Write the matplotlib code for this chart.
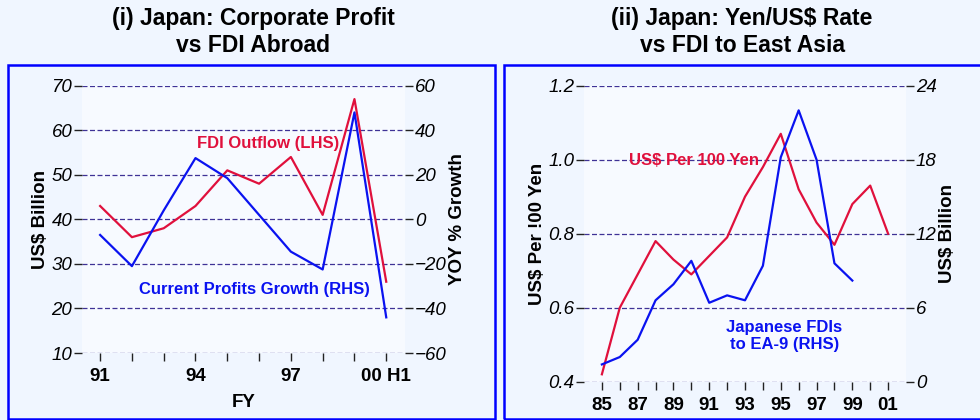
import matplotlib.pyplot as plt
from matplotlib.patches import Rectangle

plt.rcParams['font.family'] = ['Liberation Sans', 'DejaVu Sans']

# Panel (i): Japan corporate profit vs FDI abroad
FY_LABELS = ["91", "92", "93", "94", "95", "96", "97", "98", "99", "00 H1"]
FDI_OUTFLOW = [43, 36, 38, 43, 51, 48, 54, 41, 67, 26]
PROFIT_GROWTH = [-7, -21, 4, 27.5, 18.5, 2, -14.5, -22.5, 48, -44]

# Panel (ii): Yen/US$ rate vs FDI to East Asia
YEARS = ["85", "86", "87", "88", "89", "90", "91", "92", "93", "94",
         "95", "96", "97", "98", "99", "00", "01"]
USD_PER_100YEN = [0.42, 0.60, 0.69, 0.78, 0.73, 0.69, 0.74, 0.79, 0.90, 0.98,
                  1.07, 0.92, 0.83, 0.77, 0.88, 0.93, 0.80]
FDI_EA9 = [1.4, 2.0, 3.4, 6.6, 7.9, 9.8, 6.4, 7.0, 6.6, 9.4,
           18.2, 22.0, 18.0, 9.6, 8.2]

BG = "#f0f6ff"
PLOT_BG = "#f7faff"
RED = "#e0103c"
BLUE = "#0a12f0"
GRID = "#3f3296"


def style_axes(ax, ax2):
    for a in (ax, ax2):
        for s in a.spines.values():
            s.set_visible(False)
        a.tick_params(axis="y", length=6, width=1, color="#222222",
                      labelsize=13.5, pad=1)
    ax.set_facecolor(PLOT_BG)
    ax.yaxis.grid(True, linestyle=(0, (4, 2)), color=GRID, linewidth=0.9)
    ax.set_axisbelow(True)
    for lab in ax.get_yticklabels() + ax2.get_yticklabels():
        lab.set_fontstyle("italic")
    ax.tick_params(axis="x", length=6, width=1, color="#222222", pad=5)
    for lab in ax.get_xticklabels():
        lab.set_fontweight("bold")
        lab.set_fontsize(13.5)


fig = plt.figure(figsize=(9.8, 4.2), dpi=100, facecolor=BG)

# panel frames
fig.patches.append(Rectangle((8 / 980, 1 / 420), 487 / 980, 354 / 420,
                             transform=fig.transFigure, fill=False,
                             edgecolor="#0000ff", linewidth=1.8))
fig.patches.append(Rectangle((504 / 980, 1 / 420), 480 / 980, 354 / 420,
                             transform=fig.transFigure, fill=False,
                             edgecolor="#0000ff", linewidth=1.8))

# ---- left panel ----
ax1 = fig.add_axes([82 / 980, 1 - 353 / 420, 323 / 980, 267.3 / 420])
ax1b = ax1.twinx()
x1 = range(len(FY_LABELS))
ax1.plot(x1, FDI_OUTFLOW, color=RED, linewidth=1.6, zorder=3)
ax1b.plot(x1, PROFIT_GROWTH, color=BLUE, linewidth=1.6, zorder=3)
ax1.set_xlim(-0.57, 9.59)
ax1.set_ylim(10, 70)
ax1b.set_ylim(-60, 60)
ax1.set_yticks(range(10, 71, 10))
ax1b.set_yticks(range(-60, 61, 20))
ax1.set_xticks(list(x1))
ax1.set_xticklabels([l if i % 3 == 0 else "" for i, l in enumerate(FY_LABELS)])
style_axes(ax1, ax1b)
ax1.set_ylabel("US$ Billion", fontsize=13.5, fontweight="bold", labelpad=2)
ax1b.set_ylabel("YOY % Growth", fontsize=13.5, fontweight="bold", labelpad=2)
ax1.set_xlabel("FY", fontsize=13.5, fontweight="bold", labelpad=6)
ax1.text(5.3, 57, "FDI Outflow (LHS)", color=RED, fontsize=12,
         fontweight="bold", ha="center", va="center")
ax1b.text(4.85, -31.5, "Current Profits Growth (RHS)", color=BLUE, fontsize=12,
          fontweight="bold", ha="center", va="center")
fig.text(253 / 980, 1 - 32 / 420, "(i) Japan: Corporate Profit\nvs FDI Abroad",
         ha="center", va="center", fontsize=16.5, fontweight="bold",
         linespacing=1.25)

# ---- right panel ----
ax2 = fig.add_axes([584 / 980, 1 - 381.7 / 420, 322 / 980, 296 / 420])
ax2b = ax2.twinx()
x2 = range(len(YEARS))
ax2.plot(x2, USD_PER_100YEN, color=RED, linewidth=1.6, zorder=3)
ax2b.plot(range(len(FDI_EA9)), FDI_EA9, color=BLUE, linewidth=1.6, zorder=3)
ax2.set_xlim(-1, 17)
ax2.set_ylim(0.4, 1.2)
ax2b.set_ylim(0, 24)
ax2.set_yticks([0.4, 0.6, 0.8, 1.0, 1.2])
ax2.set_yticklabels(["0.4", "0.6", "0.8", "1.0", "1.2"])
ax2b.set_yticks(range(0, 25, 6))
ax2.set_xticks(list(x2))
ax2.set_xticklabels([l if i % 2 == 0 else "" for i, l in enumerate(YEARS)])
style_axes(ax2, ax2b)
ax2.set_ylabel("US$ Per !00 Yen", fontsize=13.5, fontweight="bold", labelpad=2)
ax2b.set_ylabel("US$ Billion", fontsize=13.5, fontweight="bold", labelpad=2)
ax2.text(5.15, 0.998, "US$ Per 100 Yen", color=RED, fontsize=12,
         fontweight="bold", ha="center", va="center")
ax2b.text(10.2, 3.7, "Japanese FDIs\nto EA-9 (RHS)", color=BLUE, fontsize=12,
          fontweight="bold", ha="center", va="center", linespacing=1.1)
fig.text(742 / 980, 1 - 32 / 420, "(ii) Japan: Yen/US$ Rate\nvs FDI to East Asia",
         ha="center", va="center", fontsize=16.5, fontweight="bold",
         linespacing=1.25)

fig.savefig("out.png", dpi=100, facecolor=BG)
